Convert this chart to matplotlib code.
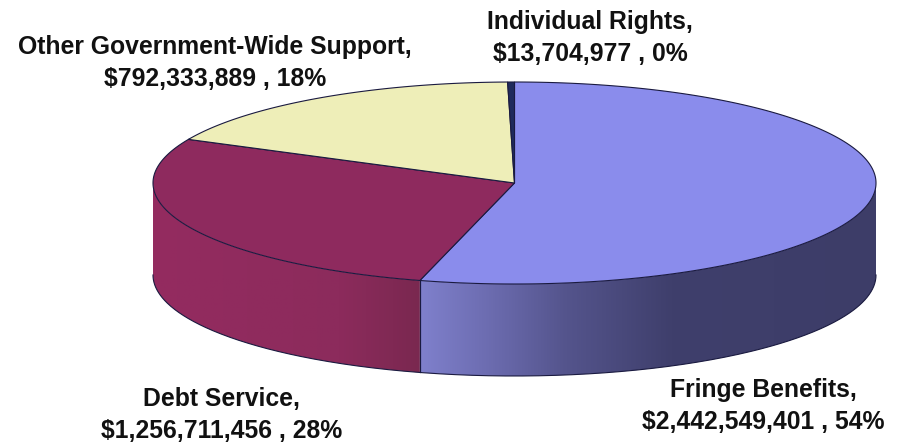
import matplotlib
matplotlib.use('Agg')
import matplotlib.pyplot as plt
import numpy as np
from matplotlib.colors import LinearSegmentedColormap
from matplotlib.patches import Polygon

plt.rcParams['font.family'] = ['Liberation Sans', 'DejaVu Sans']

# clockwise from 12 o'clock
names = ['Fringe Benefits', 'Debt Service', 'Other Government-Wide Support', 'Individual Rights']
amounts = [2442549401, 1256711456, 792333889, 13704977]
percents = ['54%', '28%', '18%', '0%']

top_colors = ['#8a8cec', '#8e2a5e', '#eeeeb8', '#1f2a5c']
side_stops = [
    [(0.0, '#7f80cc'), (0.15, '#6c6cb0'), (0.32, '#54548c'), (0.55, '#3f3f6c'), (1.0, '#3d3d68')],
    [(0.0, '#942b60'), (0.7, '#8c2b5c'), (1.0, '#7a2850')],
    [(0.0, '#eeeeb8'), (1.0, '#eeeeb8')],
    [(0.0, '#1f2a5c'), (1.0, '#1f2a5c')],
]

label_pos = [(763, 406), (222, 415), (215, 63), (590, 38)]

cx, cy = 514.5, 183
rx, ry = 361.5, 101
depth = 92
edge = '#1a1a40'


def rim(a):
    # a is degrees clockwise from the top
    a = np.radians(a)
    return cx + rx * np.sin(a), cy - ry * np.cos(a)


fig = plt.figure(figsize=(9.03, 4.42), dpi=100)
ax = fig.add_axes([0, 0, 1, 1])

total = float(sum(amounts))
edges = np.concatenate([[0], np.cumsum(amounts) / total * 360])

# the wall, only the front half of the ellipse shows
for i in range(len(amounts)):
    a0, a1 = max(edges[i], 90), min(edges[i + 1], 270)
    if a1 <= a0:
        continue
    t = np.linspace(a0, a1, 200)
    x, y = rim(t)
    pts = np.vstack([np.column_stack([x, y]),
                     np.column_stack([x[::-1], y[::-1] + depth])])
    wall = Polygon(pts, closed=True, facecolor='none', edgecolor='none')
    ax.add_patch(wall)
    cmap = LinearSegmentedColormap.from_list('wall%d' % i, side_stops[i])
    grad = np.linspace(0, 1, 256).reshape(1, -1)
    im = ax.imshow(grad, cmap=cmap, aspect='auto', zorder=1,
                   extent=[x.min(), x.max(), cy + ry + depth + 5, cy - 5])
    im.set_clip_path(wall)
    ax.plot(x, y + depth, color=edge, lw=0.8, zorder=3)
    # the vertical seam shows only where two slices meet on the front
    for ta, xa, ya in [(a0, x[0], y[0]), (a1, x[-1], y[-1])]:
        if 90 < ta < 270:
            ax.plot([xa, xa], [ya, ya + depth], color=edge, lw=0.8, zorder=3)

ax.set_xlim(0, 903)
ax.set_ylim(442, 0)
ax.axis('off')

# the top face
for i in range(len(amounts)):
    t = np.linspace(edges[i], edges[i + 1], 300)
    x, y = rim(t)
    pts = np.vstack([[cx, cy], np.column_stack([x, y])])
    ax.add_patch(Polygon(pts, closed=True, facecolor=top_colors[i],
                         edgecolor=edge, lw=0.8, zorder=4))

for name, amount, pct, (lx, ly) in zip(names, amounts, percents, label_pos):
    txt = '%s,\n$%s , %s' % (name, format(amount, ','), pct)
    ax.text(lx, ly, txt, ha='center', va='center', fontsize=17.8,
            fontweight='bold', color='#111111', linespacing=1.4, zorder=5)

fig.savefig('out.png', dpi=100)
plt.close()
